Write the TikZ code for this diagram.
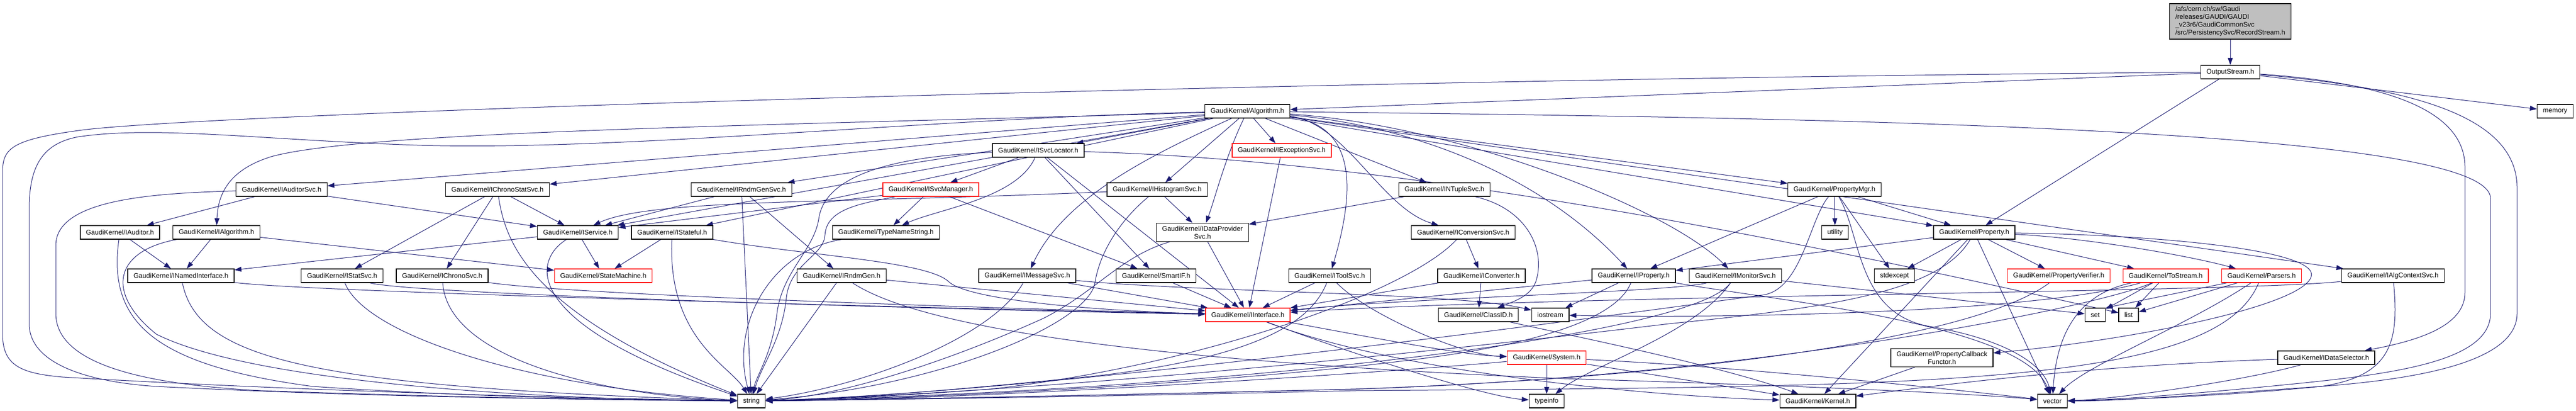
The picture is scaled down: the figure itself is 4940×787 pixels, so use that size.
\documentclass[tikz,border=0pt]{standalone}
\usepackage{fontspec}
\setmainfont{Liberation Sans}
\usetikzlibrary{arrows.meta,backgrounds}
\definecolor{depblue}{HTML}{191970}
\definecolor{rootgray}{HTML}{BFBFBF}
\begin{document}
\begin{tikzpicture}[x=.75pt,y=-.75pt,
    box/.style={draw=black,line width=1pt,fill=white,minimum height=19.5pt,
        inner xsep=8.25pt,inner ysep=4pt,align=center,
        font=\fontsize{9.7}{11.25}\selectfont},
    redbox/.style={box,draw=red},
    dep/.style={draw=depblue,line width=.75pt,
        -{Triangle[length=10pt,width=7pt]}},
    ]
    \useasboundingbox (0,0) rectangle (4940,787);
    \path
    (4277,41) node[box,fill=rootgray,align=left] (root)
    {/afs/cern.ch/sw/Gaudi\\/releases/GAUDI/GAUDI\\\_v23r6/GaudiCommonSvc\\/src/PersistencySvc/RecordStream.h}
    (4277,138) node[box] (os) {OutputStream.h}
    (2392,213) node[box] (alg) {GaudiKernel/Algorithm.h} % <<< level 2
    ++(2508,0) node[box] (memory) {memory}
    (1991,288) node[box] (svcloc) {GaudiKernel/ISvcLocator.h} % <<< level 3
    ++(467,0) node[redbox] (excsvc) {GaudiKernel/IExceptionSvc.h}
    (540,363) node[box] (audsvc) {GaudiKernel/IAuditorSvc.h} % <<< level 4
    ++(414,0) node[box] (chrstat) {GaudiKernel/IChronoStatSvc.h}
    ++(468,0) node[box] (rndmsvc) {GaudiKernel/IRndmGenSvc.h}
    ++(363,0) node[redbox] (svcmgr) {GaudiKernel/ISvcManager.h}
    ++(434,0) node[box] (histsvc) {GaudiKernel/IHistogramSvc.h}
    ++(551,0) node[box] (ntuple) {GaudiKernel/INTupleSvc.h}
    ++(748,0) node[box] (propmgr) {GaudiKernel/PropertyMgr.h}
    (230,445) node[box] (iaud) {GaudiKernel/IAuditor.h} % <<< level 5
    ++(185,0) node[box] (ialg) {GaudiKernel/IAlgorithm.h}
    ++(693,0) node[box] (iservice) {GaudiKernel/IService.h}
    ++(181,0) node[box] (stateful) {GaudiKernel/IStateful.h}
    ++(410,0) node[box] (tnstring) {GaudiKernel/TypeNameString.h}
    ++(607,0) node[box] (dpsvc) {GaudiKernel/IDataProvider\\Svc.h}
    ++(500,0) node[box] (convsvc) {GaudiKernel/IConversionSvc.h}
    ++(713,0) node[box] (utility) {utility}
    ++(267,0) node[box] (property) {GaudiKernel/Property.h}
    (347,528) node[box] (named) {GaudiKernel/INamedInterface.h} % <<< level 6
    ++(309,0) node[box] (statsvc) {GaudiKernel/IStatSvc.h}
    ++(192,0) node[box] (chrono) {GaudiKernel/IChronoSvc.h}
    ++(309,0) node[redbox] (statemach) {GaudiKernel/StateMachine.h}
    ++(457,0) node[box] (rndmgen) {GaudiKernel/IRndmGen.h}
    ++(356,0) node[box] (msgsvc) {GaudiKernel/IMessageSvc.h}
    ++(247,0) node[box] (smartif) {GaudiKernel/SmartIF.h}
    ++(333,0) node[box] (toolsvc) {GaudiKernel/IToolSvc.h}
    ++(291,0) node[box] (converter) {GaudiKernel/IConverter.h}
    ++(292,0) node[box] (iproperty) {GaudiKernel/IProperty.h}
    ++(195,0) node[box] (monitor) {GaudiKernel/IMonitorSvc.h}
    ++(305,0) node[box] (stdexcept) {stdexcept}
    ++(315,0) node[redbox] (verifier) {GaudiKernel/PropertyVerifier.h}
    ++(205,0) node[redbox] (tostream) {GaudiKernel/ToStream.h}
    ++(184,0) node[redbox] (parsers) {GaudiKernel/Parsers.h}
    ++(252,0) node[box] (algctx) {GaudiKernel/IAlgContextSvc.h}
    (2393,603) node[redbox] (iinterface) {GaudiKernel/IInterface.h} % <<< level 7
    ++(442,0) node[box] (classid) {GaudiKernel/ClassID.h}
    ++(138,0) node[box] (iostream) {iostream}
    ++(1045,0) node[box] (set) {set}
    ++(64,0) node[box] (list) {list}
    (2966,685) node[redbox] (system) {GaudiKernel/System.h} % <<< level 8
    ++(758,0) node[box] (pcf) {GaudiKernel/PropertyCallback\\Functor.h}
    ++(737,0) node[box] (dataselector) {GaudiKernel/IDataSelector.h}
    (1441,768) node[box] (string) {string} % <<< level 9
    ++(1525,0) node[box] (typeinfo) {typeinfo}
    ++(520,0) node[box] (kernel) {GaudiKernel/Kernel.h}
    ++(450,0) node[box] (vector) {vector};
    \begin{scope}[on background layer]
    % RecordStream.h, OutputStream.h
    \draw[dep] (root) -- (os);
    \draw[dep] (os) -- (memory);
    \draw[dep] (os) -- (alg);
    \draw[dep] (os) -- (property);
    \draw[dep] (os) .. controls (4600,160) and (4727,220) .. (4727,320) -- (4727,560) .. controls (4727,620) and (4650,650) .. (dataselector);
    \draw[dep] (os) .. controls (4650,170) and (4827,230) .. (4827,360) -- (4827,600) .. controls (4827,690) and (4650,725) .. (4450,740) .. controls (4200,758) and (4050,768) .. (vector);
    \draw[dep] (os) .. controls (2600,150) and (400,215) .. (150,250) .. controls (20,268) and (5,285) .. (5,330) -- (5,640) .. controls (5,700) and (40,715) .. (120,722) .. controls (600,750) and (1100,762) .. (string);
    % Algorithm.h
    \draw[dep] (alg) -- (svcloc);
    \draw[dep] (alg) -- (excsvc);
    \draw[dep] (alg) -- (histsvc);
    \draw[dep] (alg) -- (ntuple);
    \draw[dep] (alg) -- (propmgr);
    \draw[dep] (alg) -- (audsvc);
    \draw[dep] (alg) -- (chrstat);
    \draw[dep] (alg) -- (rndmsvc);
    \draw[dep] (alg) -- (iservice);
    \draw[dep] (alg) -- (stateful);
    \draw[dep] (alg) -- (property);
    \draw[dep] (alg) -- (algctx);
    \draw[dep] (alg) .. controls (1500,240) and (700,250) .. (520,300) .. controls (440,325) and (418,370) .. (ialg);
    \draw[dep] (alg) .. controls (2200,300) and (2040,380) .. (msgsvc);
    \draw[dep] (alg) .. controls (2350,300) and (2330,380) .. (dpsvc);
    \draw[dep] (alg) .. controls (2600,240) and (2600,360) .. (toolsvc);
    \draw[dep] (alg) .. controls (2580,235) and (2650,400) .. (convsvc);
    \draw[dep] (alg) .. controls (2700,240) and (2950,330) .. (iproperty);
    \draw[dep] (alg) .. controls (2800,240) and (3200,400) .. (monitor);
    \draw[dep] (alg) .. controls (1800,225) and (1200,290) .. (800,278) .. controls (500,268) and (300,240) .. (150,262) .. controls (80,275) and (56,320) .. (56,400) -- (56,620) .. controls (56,690) and (150,730) .. (300,740) .. controls (700,760) and (1100,765) .. (string);
    \draw[dep] (alg) .. controls (3400,225) and (4776,240) .. (4776,380) -- (4776,600) .. controls (4776,690) and (4600,715) .. (4400,735) .. controls (4200,755) and (4050,766) .. (vector);
    % level 3
    \draw[dep] (svcloc) -- (svcmgr);
    \draw[dep] (svcloc) .. controls (1950,380) and (1800,400) .. (tnstring);
    \draw[dep] (svcloc) -- (smartif);
    \draw[dep] (svcloc) -- (iinterface);
    \draw[dep] (svcloc) .. controls (2800,310) and (3700,520) .. (list);
    \draw[dep] (svcloc) .. controls (1700,300) and (1580,340) .. (1570,420) .. controls (1560,480) and (1500,520) .. (1490,600) .. controls (1480,680) and (1450,720) .. (string);
    \draw[dep] (excsvc) -- (iinterface);
    % level 4
    \draw[dep] (audsvc) -- (iservice);
    \draw[dep] (audsvc) -- (iaud);
    \draw[dep] (audsvc) .. controls (300,370) and (107,380) .. (107,470) -- (107,600) .. controls (107,690) and (250,735) .. (500,748) .. controls (900,762) and (1200,766) .. (string);
    \draw[dep] (chrstat) -- (iservice);
    \draw[dep] (chrstat) -- (chrono);
    \draw[dep] (chrstat) -- (statsvc);
    \draw[dep] (chrstat) .. controls (970,470) and (1020,600) .. (string);
    \draw[dep] (rndmsvc) -- (iservice);
    \draw[dep] (rndmsvc) -- (rndmgen);
    \draw[dep] (rndmsvc) -- (string);
    \draw[dep] (svcmgr) -- (iservice);
    \draw[dep] (svcmgr) -- (tnstring);
    \draw[dep] (svcmgr) -- (smartif);
    \draw[dep] (svcmgr) .. controls (1650,390) and (1585,400) .. (1582,450) .. controls (1580,490) and (1515,505) .. (1508,570) .. controls (1500,650) and (1460,700) .. (string);
    \draw[dep] (histsvc) .. controls (1600,390) and (1250,380) .. (iservice);
    \draw[dep] (histsvc) -- (dpsvc);
    \draw[dep] (histsvc) .. controls (2150,420) and (2110,480) .. (2100,540) .. controls (2090,620) and (1800,740) .. (string);
    \draw[dep] (ntuple) -- (dpsvc);
    \draw[dep] (ntuple) .. controls (2930,400) and (2965,480) .. (2945,540) .. controls (2935,565) and (2910,575) .. (classid);
    \draw[dep] (propmgr) -- (iproperty);
    \draw[dep] (propmgr) -- (utility);
    \draw[dep] (propmgr) -- (stdexcept);
    \draw[dep] (propmgr) -- (property);
    \draw[dep] (propmgr) .. controls (3570,450) and (3560,600) .. (3700,625) .. controls (3850,650) and (3920,700) .. (vector);
    \draw[dep] (propmgr) .. controls (3470,420) and (3455,555) .. (3380,565) .. controls (2900,630) and (2000,750) .. (string);
    % level 5
    \draw[dep] (iaud) -- (named);
    \draw[dep] (iaud) .. controls (205,620) and (300,700) .. (600,740) .. controls (900,760) and (1200,766) .. (string);
    \draw[dep] (ialg) -- (named);
    \draw[dep] (ialg) -- (statemach);
    \draw[dep] (ialg) .. controls (220,480) and (200,560) .. (300,640) .. controls (500,740) and (1100,766) .. (string);
    \draw[dep] (iservice) -- (named);
    \draw[dep] (iservice) -- (statemach);
    \draw[dep] (iservice) .. controls (1020,500) and (1000,620) .. (string);
    \draw[dep] (stateful) -- (statemach);
    \draw[dep] (stateful) .. controls (1280,650) and (1400,700) .. (string);
    \draw[dep] (stateful) .. controls (1550,490) and (1780,500) .. (1820,540) .. controls (1860,575) and (2100,595) .. (iinterface);
    \draw[dep] (tnstring) .. controls (1480,480) and (1400,620) .. (string);
    \draw[dep] (dpsvc) -- (iinterface);
    \draw[dep] (dpsvc) .. controls (2150,490) and (2100,560) .. (2000,610) .. controls (1800,700) and (1600,760) .. (string);
    \draw[dep] (convsvc) -- (converter);
    \draw[dep] (convsvc) .. controls (2700,560) and (2300,700) .. (1900,745) .. controls (1700,760) and (1550,766) .. (string);
    \draw[dep] (property) -- (stdexcept);
    \draw[dep] (property) -- (verifier);
    \draw[dep] (property) -- (tostream);
    \draw[dep] (property) .. controls (4000,455) and (4200,490) .. (parsers);
    \draw[dep] (property) .. controls (4150,450) and (4450,480) .. (4432,530) .. controls (4415,585) and (4100,650) .. (pcf);
    \draw[dep] (property) -- (kernel);
    \draw[dep] (property) -- (vector);
    \draw[dep] (property) -- (iproperty);
    \draw[dep] (property) .. controls (3720,560) and (3500,590) .. (3200,620) .. controls (2700,680) and (2000,750) .. (string);
    % level 6
    \draw[dep] (named) .. controls (600,560) and (1800,590) .. (iinterface);
    \draw[dep] (named) .. controls (380,690) and (600,740) .. (string);
    \draw[dep] (statsvc) .. controls (800,565) and (1900,595) .. (iinterface);
    \draw[dep] (statsvc) .. controls (700,640) and (1000,740) .. (string);
    \draw[dep] (chrono) .. controls (1100,565) and (1900,590) .. (iinterface);
    \draw[dep] (chrono) .. controls (860,700) and (1200,760) .. (string);
    \draw[dep] (rndmgen) -- (iinterface);
    \draw[dep] (rndmgen) -- (string);
    \draw[dep] (rndmgen) .. controls (1800,650) and (2400,700) .. (3000,725) .. controls (3500,740) and (3800,755) .. (vector);
    \draw[dep] (msgsvc) -- (iinterface);
    \draw[dep] (msgsvc) .. controls (1900,650) and (1650,740) .. (string);
    \draw[dep] (msgsvc) .. controls (2300,560) and (2800,560) .. (iostream);
    \draw[dep] (smartif) -- (iinterface);
    \draw[dep] (toolsvc) -- (iinterface);
    \draw[dep] (toolsvc) .. controls (2620,600) and (2800,680) .. (system);
    \draw[dep] (toolsvc) .. controls (2520,600) and (2450,680) .. (2100,720) .. controls (1800,750) and (1600,765) .. (string);
    \draw[dep] (converter) -- (iinterface);
    \draw[dep] (converter) -- (classid);
    \draw[dep] (iproperty) -- (iinterface);
    \draw[dep] (iproperty) -- (iostream);
    \draw[dep] (iproperty) .. controls (3100,610) and (2950,660) .. (2700,690) .. controls (2300,740) and (1700,765) .. (string);
    \draw[dep] (iproperty.south east) .. controls (3400,575) and (3880,620) .. (vector);
    \draw[dep] (monitor) .. controls (3200,560) and (2700,570) .. (iinterface);
    \draw[dep] (monitor) -- (set);
    \draw[dep] (monitor) .. controls (3250,640) and (2400,745) .. (string);
    \draw[dep] (monitor) .. controls (3250,640) and (3050,700) .. (typeinfo);
    \draw[dep] (verifier) .. controls (3800,640) and (3300,720) .. (2600,745) .. controls (2000,760) and (1600,766) .. (string);
    \draw[dep] (tostream) -- (set);
    \draw[dep] (tostream) -- (list);
    \draw[dep] (tostream) .. controls (4000,560) and (3945,620) .. (vector);
    \draw[dep] (tostream) .. controls (3900,600) and (3300,610) .. (iostream);
    \draw[dep] (tostream) .. controls (4050,580) and (3400,720) .. (2600,745) .. controls (2000,760) and (1600,766) .. (string);
    \draw[dep] (parsers) -- (set.north east);
    \draw[dep] (parsers) -- (list);
    \draw[dep] (parsers) .. controls (4200,620) and (4000,700) .. (vector);
    \draw[dep] (parsers) .. controls (4250,740) and (3700,740) .. (2600,748) .. controls (2000,762) and (1600,766) .. (string);
    \draw[dep] (algctx) .. controls (4300,560) and (3000,565) .. (iinterface);
    \draw[dep] (algctx) .. controls (4600,650) and (4590,720) .. (4450,740) .. controls (4250,760) and (4050,766) .. (vector);
    % level 7 and 8
    \draw[dep] (iinterface) .. controls (2600,640) and (2800,680) .. (system);
    \draw[dep] (iinterface) .. controls (2600,680) and (2850,760) .. (typeinfo);
    \draw[dep] (iinterface) .. controls (2700,720) and (3200,760) .. (kernel);
    \draw[dep] (classid) .. controls (3000,640) and (3300,700) .. (kernel);
    \draw[dep] (system) -- (typeinfo);
    \draw[dep] (system) -- (kernel);
    \draw[dep] (system) .. controls (3300,700) and (3700,740) .. (vector);
    \draw[dep] (system) .. controls (2700,710) and (1900,765) .. (string);
    \draw[dep] (pcf) -- (kernel);
    \draw[dep] (dataselector) .. controls (4000,700) and (3700,740) .. (kernel);
    \draw[dep] (dataselector) .. controls (4300,730) and (4050,765) .. (vector);
    \end{scope}
\end{tikzpicture}
\end{document}
